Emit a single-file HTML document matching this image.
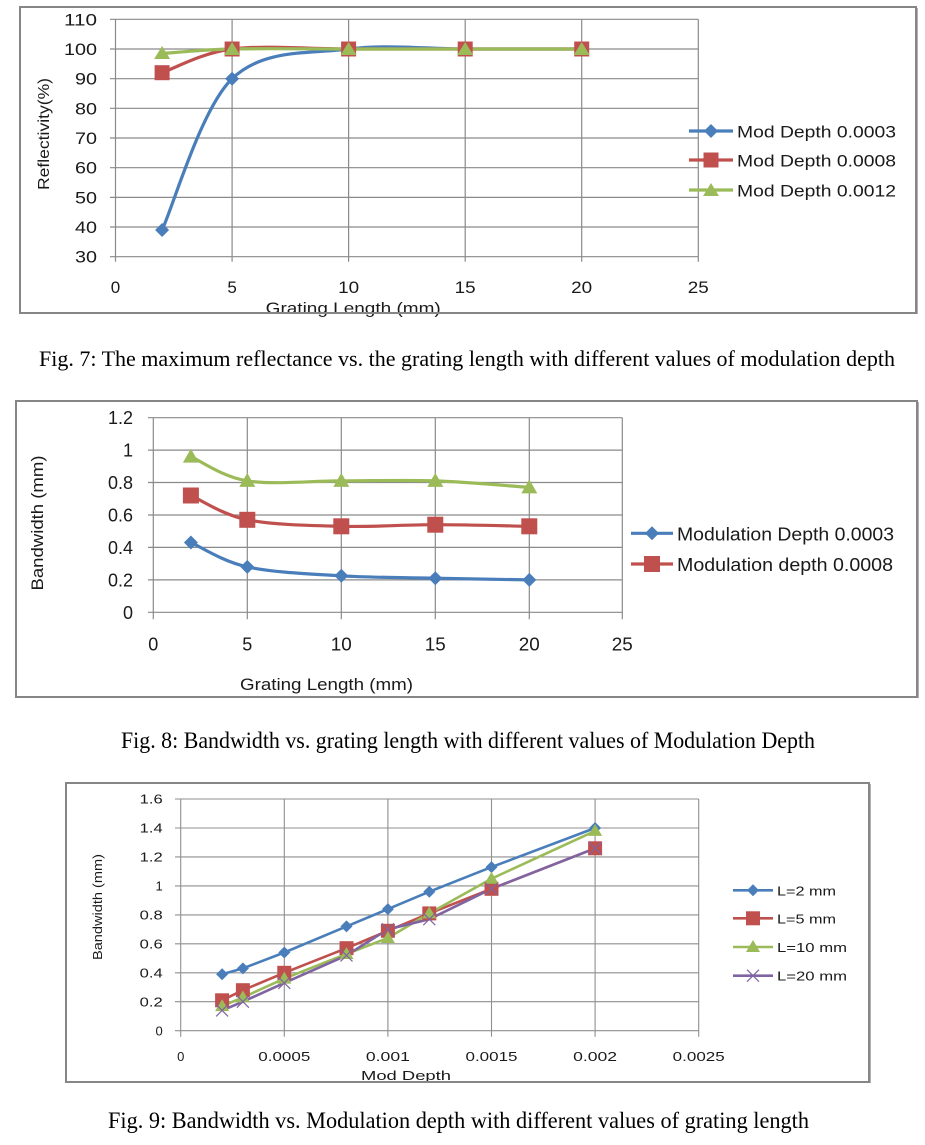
<!DOCTYPE html>
<html><head><meta charset="utf-8"><style>
html,body{margin:0;padding:0;background:#fff;}
svg{display:block;}
.s{font-family:"Liberation Sans",sans-serif;fill:#1a1a1a;}
.c{font-family:"Liberation Serif",serif;fill:#000;}
</style></head><body>
<svg width="925" height="1145" viewBox="0 0 925 1145" xmlns="http://www.w3.org/2000/svg">
<rect width="925" height="1145" fill="#fff"/>

<!-- ========== CHART 1 ========== -->
<g stroke="#8a8a8a" stroke-width="1.2" fill="none">
<path d="M110 19.3H698.3M110 49H698.3M110 78.7H698.3M110 108.3H698.3M110 138H698.3M110 167.7H698.3M110 197.4H698.3M110 227H698.3M110 256.7H698.3"/>
<path d="M115.5 19.3V261.7M232.1 19.3V261.7M348.6 19.3V261.7M465.2 19.3V261.7M581.7 19.3V261.7M698.3 19.3V261.7"/>
</g>
<g class="s" font-size="17" text-anchor="end">
<text x="97" y="25.3" textLength="33" lengthAdjust="spacingAndGlyphs">110</text>
<text x="97" y="55" textLength="33" lengthAdjust="spacingAndGlyphs">100</text>
<text x="97" y="84.7" textLength="22" lengthAdjust="spacingAndGlyphs">90</text>
<text x="97" y="114.3" textLength="22" lengthAdjust="spacingAndGlyphs">80</text>
<text x="97" y="144" textLength="22" lengthAdjust="spacingAndGlyphs">70</text>
<text x="97" y="173.7" textLength="22" lengthAdjust="spacingAndGlyphs">60</text>
<text x="97" y="203.4" textLength="22" lengthAdjust="spacingAndGlyphs">50</text>
<text x="97" y="233" textLength="22" lengthAdjust="spacingAndGlyphs">40</text>
<text x="97" y="262.7" textLength="22" lengthAdjust="spacingAndGlyphs">30</text>
</g>
<g class="s" font-size="17" text-anchor="middle">
<text x="115.5" y="293">0</text>
<text x="232.1" y="293">5</text>
<text x="348.6" y="293" textLength="21" lengthAdjust="spacingAndGlyphs">10</text>
<text x="465.2" y="293" textLength="21" lengthAdjust="spacingAndGlyphs">15</text>
<text x="581.7" y="293" textLength="21" lengthAdjust="spacingAndGlyphs">20</text>
<text x="698.3" y="293" textLength="21" lengthAdjust="spacingAndGlyphs">25</text>
</g>
<text class="s" font-size="16" x="265.7" y="313.5" textLength="175" lengthAdjust="spacingAndGlyphs">Grating Length (mm)</text>
<text class="s" font-size="16" transform="translate(49,134) rotate(-90)" text-anchor="middle" textLength="112" lengthAdjust="spacingAndGlyphs">Reflectivity(%)</text>

<!-- series -->
<path d="M162.1 230 C173.8 204.8 201 108.9 232.1 78.7 C263.2 48.5 309.8 54 348.6 49 C387.5 44.05 426.4 49 465.2 49 C504.1 49 562.3 49 581.7 49" fill="none" stroke="#4a7ebb" stroke-width="3.2" stroke-linecap="round"/>
<path d="M162.1 72.7 C173.8 68.75 201 52.95 232.1 49 C263.2 45.05 309.8 49 348.6 49 L581.7 49" fill="none" stroke="#c0504d" stroke-width="3.2" stroke-linecap="round"/>
<path d="M162.1 53.5 C173.8 52.75 201 49.75 232.1 49 C263.2 48.25 309.8 49 348.6 49 L581.7 49" fill="none" stroke="#9bbb59" stroke-width="3.2" stroke-linecap="round"/>
<g fill="#4a7ebb">
<polygon points="162.1,223 169.1,230 162.1,237 155.1,230"/>
<polygon points="232.1,71.7 239.1,78.7 232.1,85.7 225.1,78.7"/>
<polygon points="348.6,42 355.6,49 348.6,56 341.6,49"/>
<polygon points="465.2,42 472.2,49 465.2,56 458.2,49"/>
<polygon points="581.7,42 588.7,49 581.7,56 574.7,49"/>
</g>
<g fill="#c0504d">
<rect x="154.6" y="65.2" width="15" height="15"/>
<rect x="224.6" y="41.5" width="15" height="15"/>
<rect x="341.1" y="41.5" width="15" height="15"/>
<rect x="457.7" y="41.5" width="15" height="15"/>
<rect x="574.2" y="41.5" width="15" height="15"/>
</g>
<g fill="#9bbb59">
<polygon points="162.1,46 170.1,59 154.1,59"/>
<polygon points="232.1,42 240.1,55 224.1,55"/>
<polygon points="348.6,42 356.6,55 340.6,55"/>
<polygon points="465.2,42 473.2,55 457.2,55"/>
<polygon points="581.7,42 589.7,55 573.7,55"/>
</g>
<!-- legend -->
<line x1="689" y1="131" x2="733" y2="131" stroke="#4a7ebb" stroke-width="3.2"/>
<polygon points="711,124 718,131 711,138 704,131" fill="#4a7ebb"/>
<line x1="689" y1="160" x2="733" y2="160" stroke="#c0504d" stroke-width="3.2"/>
<rect x="703.5" y="152.5" width="15" height="15" fill="#c0504d"/>
<line x1="689" y1="190" x2="733" y2="190" stroke="#9bbb59" stroke-width="3.2"/>
<polygon points="711,183 719,196 703,196" fill="#9bbb59"/>
<g class="s" font-size="17">
<text x="737" y="137.3" textLength="159" lengthAdjust="spacingAndGlyphs">Mod Depth 0.0003</text>
<text x="737" y="166.3" textLength="159" lengthAdjust="spacingAndGlyphs">Mod Depth 0.0008</text>
<text x="737" y="196.3" textLength="159" lengthAdjust="spacingAndGlyphs">Mod Depth 0.0012</text>
</g>
<rect x="20" y="7" width="896" height="306" fill="none" stroke="#868686" stroke-width="2"/>
<line x1="917.5" y1="8" x2="917.5" y2="314" stroke="#b0b0b0" stroke-width="1"/>

<text class="c" font-size="22" x="39" y="366" textLength="856" lengthAdjust="spacingAndGlyphs">Fig. 7:  The maximum reflectance vs. the grating length with different values of modulation depth</text>

<!-- ========== CHART 2 ========== -->
<g stroke="#8a8a8a" stroke-width="1.2" fill="none">
<path d="M148 417.7H622.3M148 450.1H622.3M148 482.5H622.3M148 515H622.3M148 547.4H622.3M148 579.9H622.3M148 612.3H622.3"/>
<path d="M153.3 417.7V619.3M247.3 417.7V619.3M341.3 417.7V619.3M435.3 417.7V619.3M529.3 417.7V619.3M622.3 417.7V619.3"/>
</g>
<g class="s" font-size="18" text-anchor="end">
<text x="133" y="424.2" textLength="25" lengthAdjust="spacingAndGlyphs">1.2</text>
<text x="133" y="456.6">1</text>
<text x="133" y="489" textLength="25" lengthAdjust="spacingAndGlyphs">0.8</text>
<text x="133" y="521.5" textLength="25" lengthAdjust="spacingAndGlyphs">0.6</text>
<text x="133" y="553.9" textLength="25" lengthAdjust="spacingAndGlyphs">0.4</text>
<text x="133" y="586.4" textLength="25" lengthAdjust="spacingAndGlyphs">0.2</text>
<text x="133" y="618.8">0</text>
</g>
<g class="s" font-size="18" text-anchor="middle">
<text x="153.3" y="650.7">0</text>
<text x="247.3" y="650.7">5</text>
<text x="341.3" y="650.7" textLength="21" lengthAdjust="spacingAndGlyphs">10</text>
<text x="435.3" y="650.7" textLength="21" lengthAdjust="spacingAndGlyphs">15</text>
<text x="529.3" y="650.7" textLength="21" lengthAdjust="spacingAndGlyphs">20</text>
<text x="622.3" y="650.7" textLength="21" lengthAdjust="spacingAndGlyphs">25</text>
</g>
<text class="s" font-size="17" x="240" y="690" textLength="173" lengthAdjust="spacingAndGlyphs">Grating Length (mm)</text>
<text class="s" font-size="17" transform="translate(43,523) rotate(-90)" text-anchor="middle" textLength="135" lengthAdjust="spacingAndGlyphs">Bandwidth (mm)</text>

<path d="M190.9 542.5 C200.3 546.6 222.2 561.35 247.3 566.9 C272.4 572.45 310 573.9 341.3 575.8 C372.6 577.7 404 577.5 435.3 578.2 C466.6 578.9 513.6 579.6 529.3 579.9" fill="none" stroke="#4a7ebb" stroke-width="3.2" stroke-linecap="round"/>
<path d="M190.9 495.5 C200.3 499.55 222.2 514.67 247.3 519.8 C272.4 524.93 310 525.48 341.3 526.3 C372.6 527.12 404 524.7 435.3 524.7 C466.6 524.7 513.6 526.03 529.3 526.3" fill="none" stroke="#c0504d" stroke-width="3.2" stroke-linecap="round"/>
<path d="M190.9 456.6 C200.3 460.65 222.2 476.85 247.3 480.9 C272.4 484.95 310 480.9 341.3 480.9 C372.6 480.9 404 479.82 435.3 480.9 C466.6 481.98 513.6 486.3 529.3 487.4" fill="none" stroke="#9bbb59" stroke-width="3.2" stroke-linecap="round"/>
<g fill="#4a7ebb">
<polygon points="190.9,535.5 197.9,542.5 190.9,549.5 183.9,542.5"/>
<polygon points="247.3,559.9 254.3,566.9 247.3,573.9 240.3,566.9"/>
<polygon points="341.3,568.8 348.3,575.8 341.3,582.8 334.3,575.8"/>
<polygon points="435.3,571.2 442.3,578.2 435.3,585.2 428.3,578.2"/>
<polygon points="529.3,572.9 536.3,579.9 529.3,586.9 522.3,579.9"/>
</g>
<g fill="#c0504d">
<rect x="182.9" y="487.5" width="16" height="16"/>
<rect x="239.3" y="511.8" width="16" height="16"/>
<rect x="333.3" y="518.3" width="16" height="16"/>
<rect x="427.3" y="516.7" width="16" height="16"/>
<rect x="521.3" y="518.3" width="16" height="16"/>
</g>
<g fill="#9bbb59">
<polygon points="190.9,448.6 198.9,462.6 182.9,462.6"/>
<polygon points="247.3,472.9 255.3,486.9 239.3,486.9"/>
<polygon points="341.3,472.9 349.3,486.9 333.3,486.9"/>
<polygon points="435.3,472.9 443.3,486.9 427.3,486.9"/>
<polygon points="529.3,479.4 537.3,493.4 521.3,493.4"/>
</g>
<line x1="631" y1="533.3" x2="673" y2="533.3" stroke="#4a7ebb" stroke-width="3.2"/>
<polygon points="652,526.3 659,533.3 652,540.3 645,533.3" fill="#4a7ebb"/>
<line x1="631" y1="564" x2="673" y2="564" stroke="#c0504d" stroke-width="3.2"/>
<rect x="644" y="556" width="16" height="16" fill="#c0504d"/>
<g class="s" font-size="18">
<text x="677" y="540.7" textLength="217" lengthAdjust="spacingAndGlyphs">Modulation Depth 0.0003</text>
<text x="677" y="571" textLength="216" lengthAdjust="spacingAndGlyphs">Modulation depth 0.0008</text>
</g>
<rect x="16" y="401" width="901" height="296" fill="none" stroke="#868686" stroke-width="2"/>
<line x1="918.5" y1="402" x2="918.5" y2="698" stroke="#b0b0b0" stroke-width="1"/>

<text class="c" font-size="23" x="121" y="748" textLength="694" lengthAdjust="spacingAndGlyphs">Fig. 8: Bandwidth vs. grating length with different values of Modulation Depth</text>

<!-- ========== CHART 3 ========== -->
<g stroke="#8f8f8f" stroke-width="1.1" fill="none">
<path d="M175 799H698.7M175 828H698.7M175 856.9H698.7M175 885.9H698.7M175 914.9H698.7M175 943.8H698.7M175 972.8H698.7M175 1001.7H698.7M175 1030.7H698.7"/>
<path d="M180.7 799V1036.7M284.3 799V1036.7M387.9 799V1036.7M491.5 799V1036.7M595.1 799V1036.7M698.7 799V1036.7"/>
</g>
<g class="s" font-size="13" text-anchor="end">
<text x="162.7" y="803.7" textLength="23" lengthAdjust="spacingAndGlyphs">1.6</text>
<text x="162.7" y="832.7" textLength="23" lengthAdjust="spacingAndGlyphs">1.4</text>
<text x="162.7" y="861.6" textLength="23" lengthAdjust="spacingAndGlyphs">1.2</text>
<text x="162.7" y="890.6">1</text>
<text x="162.7" y="919.6" textLength="23" lengthAdjust="spacingAndGlyphs">0.8</text>
<text x="162.7" y="948.5" textLength="23" lengthAdjust="spacingAndGlyphs">0.6</text>
<text x="162.7" y="977.5" textLength="23" lengthAdjust="spacingAndGlyphs">0.4</text>
<text x="162.7" y="1006.4" textLength="23" lengthAdjust="spacingAndGlyphs">0.2</text>
<text x="162.7" y="1035.4">0</text>
</g>
<g class="s" font-size="13" text-anchor="middle">
<text x="180.7" y="1061">0</text>
<text x="284.3" y="1061" textLength="52" lengthAdjust="spacingAndGlyphs">0.0005</text>
<text x="387.9" y="1061" textLength="44" lengthAdjust="spacingAndGlyphs">0.001</text>
<text x="491.5" y="1061" textLength="52" lengthAdjust="spacingAndGlyphs">0.0015</text>
<text x="595.1" y="1061" textLength="44" lengthAdjust="spacingAndGlyphs">0.002</text>
<text x="698.7" y="1061" textLength="52" lengthAdjust="spacingAndGlyphs">0.0025</text>
</g>
<text class="s" font-size="13" x="361" y="1080" textLength="90" lengthAdjust="spacingAndGlyphs">Mod  Depth</text>
<text class="s" font-size="13" transform="translate(102,907) rotate(-90)" text-anchor="middle" textLength="106" lengthAdjust="spacingAndGlyphs">Bandwidth (mm)</text>

<polyline points="222.1,974.2 242.9,968.4 284.3,952.5 346.5,926.4 387.9,909.1 429.3,891.7 491.5,867.1 595.1,828" fill="none" stroke="#4a7ebb" stroke-width="2.6" stroke-linejoin="round"/>
<polyline points="222.1,1000.3 242.9,990.2 284.3,972.8 346.5,948.2 387.9,930.8 429.3,913.4 491.5,888.8 595.1,848.3" fill="none" stroke="#c0504d" stroke-width="2.6" stroke-linejoin="round"/>
<polyline points="222.1,1006.1 242.9,997.4 284.3,978.6 346.5,954 387.9,938 429.3,913.4 491.5,878.7 595.1,830.9" fill="none" stroke="#9bbb59" stroke-width="2.6" stroke-linejoin="round"/>
<polyline points="222.1,1010.4 242.9,1001.7 284.3,982.9 346.5,955.4 387.9,929.3 429.3,919.2 491.5,888.8 595.1,848.3" fill="none" stroke="#8064a2" stroke-width="2.6" stroke-linejoin="round"/>
<g fill="#4a7ebb">
<polygon points="222.1,968.2 228.1,974.2 222.1,980.2 216.1,974.2"/>
<polygon points="242.9,962.4 248.9,968.4 242.9,974.4 236.9,968.4"/>
<polygon points="284.3,946.5 290.3,952.5 284.3,958.5 278.3,952.5"/>
<polygon points="346.5,920.4 352.5,926.4 346.5,932.4 340.5,926.4"/>
<polygon points="387.9,903.1 393.9,909.1 387.9,915.1 381.9,909.1"/>
<polygon points="429.3,885.7 435.3,891.7 429.3,897.7 423.3,891.7"/>
<polygon points="491.5,861.1 497.5,867.1 491.5,873.1 485.5,867.1"/>
<polygon points="595.1,822 601.1,828 595.1,834 589.1,828"/>
</g>
<g fill="#c0504d">
<rect x="215.1" y="993.3" width="14" height="14"/>
<rect x="235.9" y="983.2" width="14" height="14"/>
<rect x="277.3" y="965.8" width="14" height="14"/>
<rect x="339.5" y="941.2" width="14" height="14"/>
<rect x="380.9" y="923.8" width="14" height="14"/>
<rect x="422.3" y="906.4" width="14" height="14"/>
<rect x="484.5" y="881.8" width="14" height="14"/>
<rect x="588.1" y="841.3" width="14" height="14"/>
</g>
<g fill="#9bbb59">
<polygon points="222.1,999.1 229.1,1011.1 215.1,1011.1"/>
<polygon points="242.9,990.4 249.9,1002.4 235.9,1002.4"/>
<polygon points="284.3,971.6 291.3,983.6 277.3,983.6"/>
<polygon points="346.5,947 353.5,959 339.5,959"/>
<polygon points="387.9,931 394.9,943 380.9,943"/>
<polygon points="429.3,906.4 436.3,918.4 422.3,918.4"/>
<polygon points="491.5,871.7 498.5,883.7 484.5,883.7"/>
<polygon points="595.1,823.9 602.1,835.9 588.1,835.9"/>
</g>
<g stroke="#8064a2" stroke-width="1.2" fill="none">
<path d="M216.1 1004.4l12 12M228.1 1004.4l-12 12"/>
<path d="M236.9 995.7l12 12M248.9 995.7l-12 12"/>
<path d="M278.3 976.9l12 12M290.3 976.9l-12 12"/>
<path d="M340.5 949.4l12 12M352.5 949.4l-12 12"/>
<path d="M381.9 923.3l12 12M393.9 923.3l-12 12"/>
<path d="M423.3 913.2l12 12M435.3 913.2l-12 12"/>
<path d="M485.5 882.8l12 12M497.5 882.8l-12 12"/>
<path d="M589.1 842.3l12 12M601.1 842.3l-12 12"/>
</g>
<line x1="733" y1="890.3" x2="773" y2="890.3" stroke="#4a7ebb" stroke-width="2.6"/>
<polygon points="753,884.3 759,890.3 753,896.3 747,890.3" fill="#4a7ebb"/>
<line x1="733" y1="918.3" x2="773" y2="918.3" stroke="#c0504d" stroke-width="2.6"/>
<rect x="746" y="911.3" width="14" height="14" fill="#c0504d"/>
<line x1="733" y1="947" x2="773" y2="947" stroke="#9bbb59" stroke-width="2.6"/>
<polygon points="753,940 760,952 746,952" fill="#9bbb59"/>
<line x1="733" y1="975.7" x2="773" y2="975.7" stroke="#8064a2" stroke-width="2.6"/>
<path d="M747 969.7l12 12M759 969.7l-12 12" stroke="#8064a2" stroke-width="1.2"/>
<g class="s" font-size="13">
<text x="777" y="895.3" textLength="59" lengthAdjust="spacingAndGlyphs">L=2 mm</text>
<text x="777" y="923.3" textLength="59" lengthAdjust="spacingAndGlyphs">L=5 mm</text>
<text x="777" y="952" textLength="70" lengthAdjust="spacingAndGlyphs">L=10 mm</text>
<text x="777" y="980.7" textLength="70" lengthAdjust="spacingAndGlyphs">L=20 mm</text>
</g>
<rect x="66" y="783" width="803" height="299" fill="none" stroke="#868686" stroke-width="2"/>
<line x1="870.5" y1="784" x2="870.5" y2="1083" stroke="#b0b0b0" stroke-width="1"/>

<text class="c" font-size="23" x="108" y="1128" textLength="701" lengthAdjust="spacingAndGlyphs">Fig. 9: Bandwidth vs. Modulation depth with different values of grating length</text>
</svg>
</body></html>
